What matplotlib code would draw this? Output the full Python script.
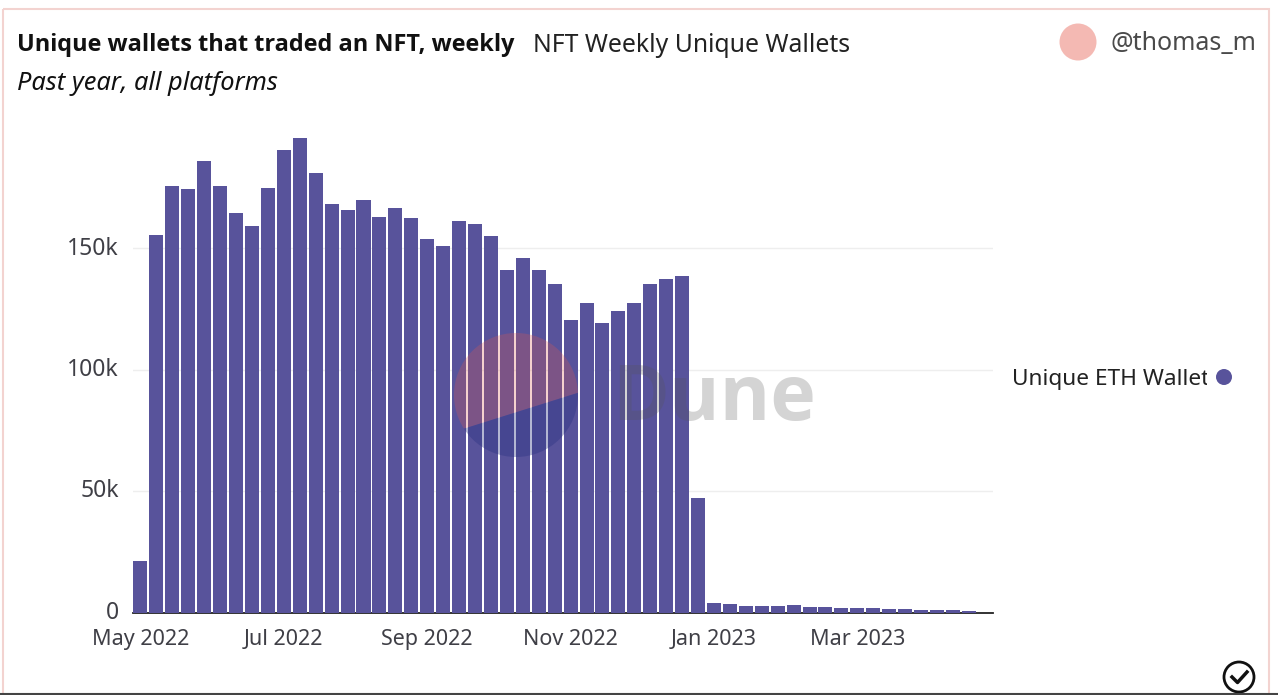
import matplotlib
matplotlib.use("Agg")
import matplotlib.pyplot as plt
from matplotlib.patches import Circle, Polygon, Rectangle
from matplotlib.transforms import ScaledTranslation

plt.rcParams['font.family'] = ['Noto Sans', 'DejaVu Sans']

# weekly wallets, in thousands
wallets = [21.2, 155.5, 175.8, 174.6, 186.0, 175.5, 164.4, 159.0, 174.7, 190.5,
           195.3, 181.1, 168.2, 165.6, 169.8, 163.0, 166.6, 162.6, 153.8, 151.0,
           161.4, 160.1, 154.9, 140.9, 146.1, 140.9, 135.3, 120.3, 127.6, 119.2,
           124.0, 127.5, 135.2, 137.4, 138.6, 47.0, 4.0, 3.4, 2.8, 2.7,
           2.8, 3.0, 2.2, 2.1, 1.9, 1.9, 1.8, 1.5, 1.5, 1.1,
           1.1, 0.9, 0.7]
xticks_at = [0, 9, 18, 27, 36, 45]
xtick_labels = ["May 2022", "Jul 2022", "Sep 2022", "Nov 2022", "Jan 2023", "Mar 2023"]
yticks_at = [0, 50, 100, 150]
ytick_labels = ["0", "50k", "100k", "150k"]

W = 1278.0
H = 695.0
BAR = "#58539b"
DARK = "#3f3f46"

fig = plt.figure(figsize=(12.78, 6.95), dpi=100)

# page overlay in pixel coords, frame and header go here
page = fig.add_axes([0, 0, 1, 1], zorder=0)
page.set_xlim(0, W)
page.set_ylim(H, 0)
page.axis("off")
page.add_patch(Rectangle((3, 9), 1266, 700, fill=False, ec="#f3d3d0", lw=1.5))
page.plot([0, W], [693.5, 693.5], color="#444444", lw=1.5)

# plot area
left, right, top, base = 133.0, 993.0, 130.0, 612.5
ax = fig.add_axes([left / W, 1 - base / H, (right - left) / W, (base - top) / H], zorder=1)
ax.patch.set_alpha(0)
ax.bar(range(len(wallets)), wallets, width=0.88, color=BAR, zorder=3)
ax.set_xlim(-0.47, (right - left) / 15.93 - 0.47)
ax.set_ylim(0, (base - top) / 2.428)
ax.set_yticks(yticks_at)
ax.set_yticklabels(ytick_labels)
ax.set_xticks(xticks_at)
ax.set_xticklabels(xtick_labels)
ax.tick_params(length=0, labelcolor=DARK)
ax.tick_params(axis="x", pad=12, labelsize=15.5)
ax.tick_params(axis="y", pad=10, labelsize=16.5)
ax.grid(axis="y", color="#eeeeee", lw=1, zorder=0)
for lab in ax.get_yticklabels():
    lab.set_transform(lab.get_transform() + ScaledTranslation(0, 2 / 72, fig.dpi_scale_trans))
for s in ["top", "right", "left"]:
    ax.spines[s].set_visible(False)
ax.spines["bottom"].set_color("#222222")
ax.spines["bottom"].set_linewidth(1.3)

# top layer for watermark, disc split along a slanted chord
over = fig.add_axes([0, 0, 1, 1], zorder=2)
over.set_xlim(0, W)
over.set_ylim(H, 0)
over.axis("off")
upper = Polygon([(440, 436.2), (590, 389), (590, 320), (440, 320)], transform=over.transData)
lower = Polygon([(440, 436.2), (590, 389), (590, 470), (440, 470)], transform=over.transData)
disc_top = Circle((516, 395), 62, fc="#dc5a52", alpha=0.28, lw=0)
disc_bot = Circle((516, 395), 62, fc="#252e80", alpha=0.35, lw=0)
over.add_patch(disc_top)
over.add_patch(disc_bot)
disc_top.set_clip_path(upper)
disc_bot.set_clip_path(lower)
over.text(612, 400, "Dune", fontsize=55.5, fontweight="bold", family="Open Sans", color="#555555", alpha=0.25,
          ha="left", va="center")

# header
page.text(17, 45, "Unique wallets that traded an NFT, weekly", fontsize=16.9, fontweight="bold",
          family="Open Sans", color="#111111", va="center")
page.text(533, 45, "NFT Weekly Unique Wallets", fontsize=17.85, color="#222222", va="center")
page.text(17, 83, "Past year, all platforms", fontsize=18.3, style="italic", color="#111111", va="center")
page.add_patch(Circle((1078, 42), 18.5, fc="#f4b9b3", lw=0))
page.text(1110, 44, "@thomas_m", fontsize=18, color="#4a4a4a", va="center")

# legend, name is clipped at the right
leg = page.text(1012, 379, "Unique ETH Wallets", fontsize=16.3, color="#222222", va="center")
leg.set_clip_on(True)
leg.set_clip_path(Rectangle((1000, 350), 207, 50, transform=page.transData))
page.add_patch(Circle((1224, 377), 8, fc=BAR, lw=0))

# check mark bottom right
page.add_patch(Circle((1239, 677), 15, fc="white", ec="#111111", lw=2))
page.plot([1232, 1237.5, 1247], [677, 682.5, 672], color="#111111", lw=2.5)

fig.savefig("out.png", dpi=100)
